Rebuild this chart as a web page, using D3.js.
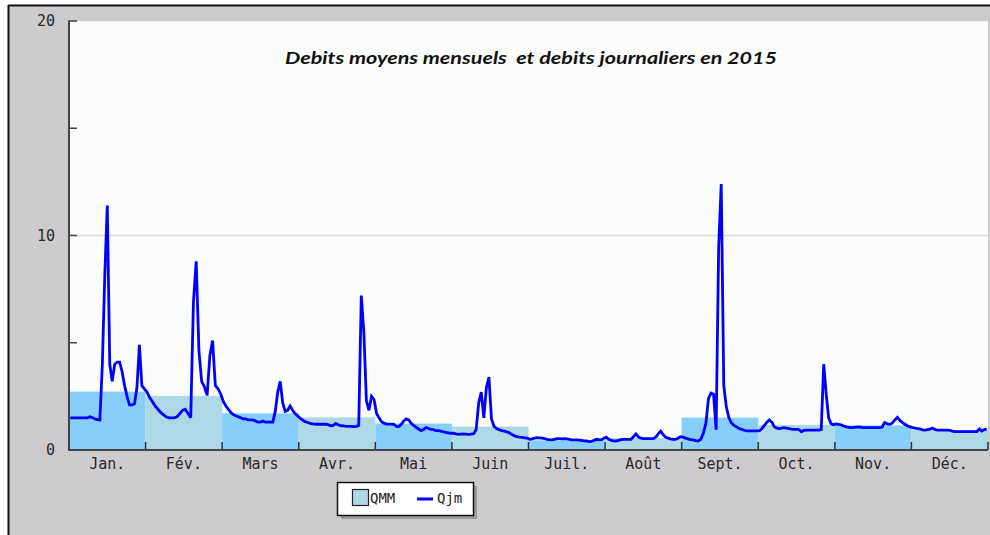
<!DOCTYPE html>
<html><head><meta charset="utf-8">
<script src="https://cdn.jsdelivr.net/npm/d3@7"></script>
<style>
html,body{margin:0;padding:0;background:#fff;}
svg{display:block;}
</style></head>
<body>
<script>
// ---------------- DATA ----------------
const months = ["Jan.","Fév.","Mars","Avr.","Mai","Juin","Juil.","Août","Sept.","Oct.","Nov.","Déc."];
const daysInMonth = [31,28,31,30,31,30,31,31,30,31,30,31];
const qmm = [2.72, 2.52, 1.71, 1.52, 1.23, 1.09, 0.45, 0.55, 1.51, 1.17, 1.15, 0.93];
const yTicks = [0, 10, 20];
const title = "Debits moyens mensuels  et debits journaliers en 2015";
const legendLabels = ["QMM", "Qjm"];

const qjmJan = [1.5,1.5,1.5,1.5,1.5,1.5,1.5,1.5,1.55,1.5,1.45,1.42,1.4,4.0,8.2,11.4,4.0,3.2,4.0,4.1,4.1,3.65,3.0,2.5,2.1,2.1,2.15,2.9,4.9,3.0,2.85];
const qjmFev = [2.7,2.45,2.25,2.05,1.9,1.75,1.65,1.55,1.5,1.5,1.5,1.55,1.7,1.85,1.9,1.7,1.5,6.9,8.8,4.65,3.2,2.95,2.55,4.4,5.1,3.0,2.85,2.6];
const qjmMar = [2.25,2.05,1.9,1.75,1.65,1.6,1.55,1.5,1.45,1.45,1.4,1.4,1.4,1.35,1.3,1.3,1.35,1.3,1.3,1.3,1.3,1.8,2.7,3.2,2.2,1.8,1.85,2.05,1.85,1.7,1.6];
const qjmAvr = [1.48,1.4,1.32,1.28,1.24,1.22,1.2,1.2,1.2,1.2,1.2,1.18,1.13,1.15,1.24,1.18,1.13,1.12,1.1,1.1,1.1,1.09,1.09,1.15,7.2,5.5,2.3,1.85,2.5,2.35];
const qjmMai = [1.7,1.5,1.32,1.25,1.21,1.21,1.21,1.2,1.1,1.09,1.2,1.35,1.45,1.4,1.25,1.15,1.06,0.98,0.9,0.95,1.04,1.0,0.96,0.95,0.9,0.9,0.88,0.85,0.82,0.8,0.78];
const qjmJuin = [0.78,0.75,0.73,0.74,0.75,0.74,0.73,0.74,0.76,0.95,2.2,2.7,1.5,2.9,3.4,1.45,1.1,1.0,0.95,0.9,0.88,0.85,0.8,0.72,0.66,0.62,0.6,0.59,0.57,0.55];
const qjmJuil = [0.5,0.52,0.55,0.58,0.57,0.55,0.53,0.5,0.48,0.47,0.5,0.53,0.53,0.52,0.53,0.52,0.5,0.47,0.47,0.47,0.46,0.45,0.43,0.42,0.39,0.4,0.45,0.5,0.48,0.47,0.55];
const qjmAou = [0.6,0.5,0.45,0.43,0.42,0.45,0.48,0.5,0.5,0.5,0.5,0.62,0.75,0.6,0.55,0.53,0.53,0.53,0.53,0.53,0.6,0.75,0.88,0.72,0.6,0.55,0.52,0.5,0.5,0.55,0.62];
const qjmSep = [0.6,0.55,0.52,0.48,0.47,0.44,0.42,0.5,0.78,1.25,2.4,2.65,2.6,0.95,9.5,12.4,3.0,2.0,1.5,1.25,1.15,1.08,1.0,0.96,0.92,0.89,0.89,0.89,0.89,0.89];
const qjmOct = [0.9,1.0,1.15,1.3,1.4,1.3,1.08,1.02,1.0,1.02,1.04,1.02,1.0,0.97,0.96,0.96,0.95,0.85,0.92,0.93,0.93,0.93,0.93,0.93,0.93,0.95,4.0,2.6,1.5,1.22,1.18];
const qjmNov = [1.22,1.2,1.17,1.12,1.08,1.05,1.04,1.05,1.07,1.08,1.05,1.04,1.04,1.04,1.04,1.04,1.04,1.04,1.06,1.28,1.22,1.2,1.25,1.4,1.52,1.38,1.28,1.2,1.12,1.08];
const qjmDec = [1.04,1.02,1.0,0.98,0.94,0.93,0.95,0.97,1.02,0.96,0.93,0.93,0.93,0.93,0.93,0.92,0.88,0.86,0.86,0.86,0.86,0.86,0.86,0.86,0.86,0.86,0.86,0.98,0.88,0.95,0.97];

// ---------------- CHART ----------------
const qjmByMonth = [qjmJan,qjmFev,qjmMar,qjmAvr,qjmMai,qjmJuin,qjmJuil,qjmAou,qjmSep,qjmOct,qjmNov,qjmDec];
const W = 990, H = 535;
const plot = {l: 69, r: 988, t: 21, b: 450};

const svg = d3.select("body").append("svg").attr("width", W).attr("height", H);

// outer panel
svg.append("rect").attr("x", 8).attr("y", 5).attr("width", W - 8).attr("height", H - 5).attr("fill", "#cdcbce");
svg.append("line").attr("x1", 8).attr("x2", W).attr("y1", 5.5).attr("y2", 5.5).attr("stroke", "#111").attr("stroke-width", 2);
svg.append("line").attr("x1", 8.5).attr("x2", 8.5).attr("y1", 5).attr("y2", H).attr("stroke", "#111").attr("stroke-width", 2);

// plot background
svg.append("rect").attr("x", plot.l).attr("y", plot.t).attr("width", plot.r - plot.l).attr("height", plot.b - plot.t).attr("fill", "#fbfdfb");
svg.append("line").attr("x1", plot.l).attr("x2", plot.r).attr("y1", plot.t + 0.5).attr("y2", plot.t + 0.5)
  .attr("stroke", "#d8d8d8").attr("stroke-width", 1).attr("stroke-dasharray", "1,3").attr("shape-rendering", "crispEdges");

const x = d3.scaleBand().domain(months).range([plot.l, plot.r]).padding(0);
const y = d3.scaleLinear().domain([0, 20]).range([plot.b, plot.t]);

// gridline at 10
svg.append("line").attr("x1", plot.l).attr("x2", plot.r).attr("y1", y(10)).attr("y2", y(10))
  .attr("stroke", "#dcdcdc").attr("stroke-width", 1.5);

// QMM bars
svg.append("g").selectAll("rect").data(months).join("rect")
  .attr("x", d => x(d)).attr("width", x.bandwidth())
  .attr("y", (d, i) => y(qmm[i])).attr("height", (d, i) => y(0) - y(qmm[i]))
  .attr("fill", (d, i) => i % 2 === 0 ? "#87cefa" : "#add8e6");

// daily points
const daily = [];
qjmByMonth.forEach((arr, mi) => {
  const n = daysInMonth[mi];
  const inner = d3.scaleLinear().domain([0, n]).range([x(months[mi]), x(months[mi]) + x.bandwidth()]);
  arr.forEach((v, di) => daily.push({x: inner(di + 0.5), v}));
});
const line = d3.line().x(d => d.x).y(d => y(d.v));
svg.append("path").datum(daily).attr("d", line)
  .attr("fill", "none").attr("stroke", "#0000ff").attr("stroke-width", 2.8).attr("stroke-linejoin", "miter").attr("stroke-miterlimit", 3);

// Y axis
const yAxis = d3.axisLeft(y).tickValues(yTicks).tickSize(0).tickPadding(14);
const gy = svg.append("g").attr("transform", `translate(${plot.l},0)`).call(yAxis);
gy.select(".domain").remove();
gy.selectAll("text").attr("font-family", "DejaVu Sans Mono").attr("font-size", 15).attr("fill", "#2a2a2a");
// inner y ticks
svg.append("g").selectAll("line").data([5, 10, 15, 20]).join("line")
  .attr("x1", plot.l - 1).attr("x2", plot.l + 8).attr("y1", d => y(d)).attr("y2", d => y(d))
  .attr("stroke", "#444").attr("stroke-width", 1.5);

// X axis
const xAxis = d3.axisBottom(x).tickSize(0).tickPadding(8);
const gx = svg.append("g").attr("transform", `translate(0,${plot.b})`).call(xAxis);
gx.select(".domain").remove();
gx.selectAll("text").attr("font-family", "DejaVu Sans Mono").attr("font-size", 15).attr("fill", "#2a2a2a");
// month boundary ticks
svg.append("g").selectAll("line").data(months.slice(1).concat(["end"])).join("line")
  .attr("x1", (d, i) => i < 11 ? x(d) : plot.r).attr("x2", (d, i) => i < 11 ? x(d) : plot.r)
  .attr("y1", plot.b - 8).attr("y2", plot.b)
  .attr("stroke", "#333").attr("stroke-width", 1.5);

// axis lines
svg.append("line").attr("x1", plot.l).attr("x2", plot.l).attr("y1", plot.t).attr("y2", plot.b + 1)
  .attr("stroke", "#444").attr("stroke-width", 2);
svg.append("line").attr("x1", plot.l).attr("x2", plot.r).attr("y1", plot.b).attr("y2", plot.b)
  .attr("stroke", "#444").attr("stroke-width", 2);

// title
svg.append("text").attr("x", 531).attr("y", 64).attr("text-anchor", "middle")
  .attr("font-family", "Lato, 'Open Sans', sans-serif").attr("font-weight", "bold").attr("font-style", "italic")
  .attr("font-size", 17).attr("fill", "#111").style("white-space", "pre")
  .attr("textLength", 492).attr("lengthAdjust", "spacingAndGlyphs")
  .text(title);

// legend
const lg = svg.append("g");
lg.append("rect").attr("x", 341).attr("y", 486).attr("width", 136).attr("height", 33).attr("fill", "#9a999b");
lg.append("rect").attr("x", 337.5).attr("y", 482.5).attr("width", 136).attr("height", 33).attr("fill", "#fff").attr("stroke", "#111").attr("stroke-width", 1.5);
lg.append("rect").attr("x", 352.5).attr("y", 489.5).attr("width", 16).attr("height", 16).attr("fill", "#add8e6").attr("stroke", "#222").attr("stroke-width", 1.2);
lg.append("text").attr("x", 370).attr("y", 503).attr("font-family", "DejaVu Sans Mono").attr("font-size", 14).attr("fill", "#222").text(legendLabels[0]);
lg.append("line").attr("x1", 417).attr("x2", 433).attr("y1", 499).attr("y2", 499).attr("stroke", "#0000ff").attr("stroke-width", 3);
lg.append("text").attr("x", 437).attr("y", 503).attr("font-family", "DejaVu Sans Mono").attr("font-size", 14).attr("fill", "#222").text(legendLabels[1]);
</script>
</body></html>
